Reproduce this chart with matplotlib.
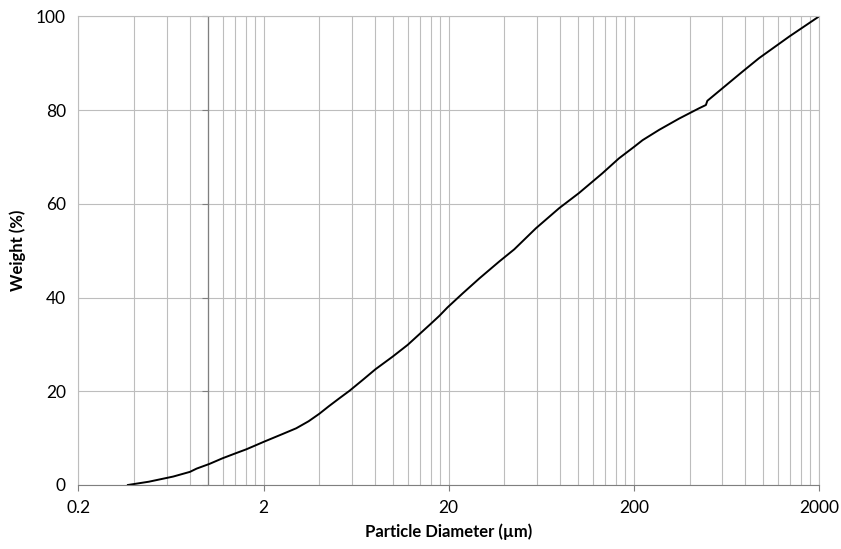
import numpy as np
import matplotlib.pyplot as plt
from matplotlib.ticker import FixedLocator, NullFormatter

plt.rcParams["font.family"] = ["Lato", "DejaVu Sans"]

# cumulative particle size distribution
diameter_um = [0.37, 0.48, 0.65, 0.80, 0.87, 1.02, 1.2, 1.42, 1.61, 1.82,
               2.0, 2.54, 3.0, 3.5, 4.0, 4.5, 5.13, 5.82, 6.9, 8.04,
               9.96, 12.0, 13.9, 16.0, 17.8, 19.7, 23.8, 29.3, 37.5, 45.2,
               59.2, 79.1, 101, 135, 166, 201, 223, 274, 351, 450,
               490, 499, 771, 949, 1380, 2000]
weight_pct = [0.0, 0.7, 1.8, 2.8, 3.5, 4.5, 5.7, 6.8, 7.6, 8.5,
              9.2, 10.9, 12.1, 13.6, 15.2, 16.8, 18.5, 20.1, 22.5, 24.7,
              27.4, 29.9, 32.2, 34.4, 36.1, 37.9, 40.9, 44.1, 47.7, 50.3,
              54.8, 59.1, 62.3, 66.5, 69.7, 72.2, 73.6, 75.8, 78.2, 80.4,
              81.1, 82.0, 88.2, 91.1, 95.7, 100.0]

x_major = [0.2, 2, 20, 200, 2000]
x_labels = ["0.2", "2", "20", "200", "2000"]
y_major = [0, 20, 40, 60, 80, 100]

grid_color = "#bdbdbd"
axis_color = "#7f7f7f"

fig = plt.figure(figsize=(8.41, 5.49), dpi=100)
ax = fig.add_axes([0.0933, 0.1166, 0.9738 - 0.0933, 0.970 - 0.1166])

ax.set_xscale("log")
ax.set_xlim(0.2, 2000)
ax.set_ylim(0, 100)

minor = [d * k for d in x_major[:-1] for k in range(2, 10)]
ax.xaxis.set_major_locator(FixedLocator(x_major))
ax.xaxis.set_minor_locator(FixedLocator(minor))
ax.xaxis.set_minor_formatter(NullFormatter())
ax.set_xticklabels(x_labels)
ax.set_yticks(y_major)

ax.grid(True, which="both", color=grid_color, linewidth=0.8)
ax.set_axisbelow(True)

ax.tick_params(axis="x", which="major", length=4.5, width=0.8,
               color=axis_color, labelsize=12.5, pad=6)
ax.tick_params(axis="x", which="minor", length=0)
ax.tick_params(axis="y", length=0, labelsize=12.5, pad=9)

for side in ["top", "right", "left"]:
    ax.spines[side].set_color(grid_color)
    ax.spines[side].set_linewidth(0.8)
ax.spines["bottom"].set_color(axis_color)
ax.spines["bottom"].set_linewidth(0.8)

# vertical axis crosses at 1 um
ax.axvline(1, color=axis_color, linewidth=0.9)
ax.plot([1] * len(y_major), y_major, linestyle="none", marker=0,
        markersize=4.5, markeredgewidth=0.8, color=axis_color, clip_on=False)

ax.plot(diameter_um, weight_pct, color="black", linewidth=1.4)

ax.set_xlabel("Particle Diameter (µm)", fontsize=12, fontweight="bold", labelpad=6)
ax.set_ylabel("Weight (%)", fontsize=12, fontweight="bold", labelpad=7)

fig.savefig("out.png", dpi=100)
